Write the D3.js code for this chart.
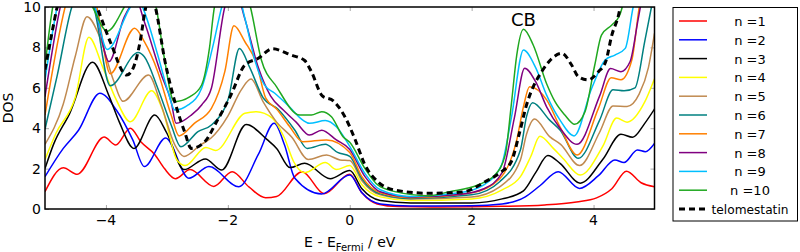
<!DOCTYPE html>
<html>
<head>
  <script src="https://d3js.org/d3.v7.min.js"></script>
  <style>
    body { margin: 0; background: #fff; }
    svg { font-family: "DejaVu Sans", sans-serif; }
    .tick-label { font-size: 14px; fill: #000; }
    .legend text { font-size: 13px; }
  </style>
</head>
<body>
  <script>
    // DOS curves, [E - E_Fermi (eV), DOS]
    var n1 = [[-5,0.86],[-4.7,2.04],[-4.47,1.72],[-4.03,3.56],[-3.84,3.17],[-3.6,4.0],[-3.42,3.3],[-3.2,2.7],[-3.04,2.0],[-2.86,1.5],[-2.62,1.95],[-2.23,1.12],[-1.93,1.84],[-1.65,1.08],[-1.38,0.56],[-1.2,0.62],[-0.78,1.85],[-0.42,0.76],[0,1.72],[0.2,0.8],[0.45,0.25],[0.8,0.12],[1.5,0.1],[2.5,0.13],[3.2,0.2],[3.72,0.35],[4.05,0.55],[4.3,1.0],[4.54,1.87],[4.78,1.3],[5,1.1]];
    var n2 = [[-5,1.6],[-4.7,3.0],[-4.45,3.9],[-4.1,5.73],[-3.83,4.9],[-3.56,3.42],[-3.37,2.1],[-3.02,3.52],[-2.64,1.52],[-2.31,2.1],[-1.82,1.1],[-1.5,2.7],[-1.24,4.24],[-1.07,3.17],[-0.9,1.52],[-0.46,0.74],[0,1.68],[0.2,0.8],[0.5,0.25],[1,0.15],[2,0.16],[2.5,0.25],[2.88,0.6],[3.12,1.15],[3.42,1.85],[3.77,1.02],[4.08,1.65],[4.35,2.43],[4.5,2.3],[4.72,2.92],[4.85,2.84],[5,3.25]];
    var n3 = [[-5,2.0],[-4.86,3.2],[-4.6,4.7],[-4.22,7.27],[-3.95,5.6],[-3.78,4.3],[-3.54,3.0],[-3.2,4.65],[-3.0,3.75],[-2.72,1.95],[-2.37,2.48],[-2.1,1.93],[-1.7,4.18],[-1.35,3.42],[-1.2,3.0],[-0.98,2.05],[-0.74,2.26],[-0.32,1.5],[0,1.9],[0.2,1.0],[0.5,0.42],[1,0.3],[2,0.3],[2.5,0.5],[2.85,0.9],[3.05,1.8],[3.25,2.65],[3.45,2.26],[3.78,1.28],[4.15,2.45],[4.45,3.7],[4.64,3.55],[4.84,4.24],[5,4.95]];
    var n4 = [[-5,2.45],[-4.82,3.75],[-4.5,5.56],[-4.28,8.5],[-4.05,7.0],[-3.83,5.4],[-3.6,4.32],[-3.25,5.85],[-3.07,4.9],[-2.83,2.4],[-2.7,2.15],[-2.36,3.05],[-2.2,2.9],[-1.72,4.74],[-1.53,4.82],[-1.27,4.5],[-1.07,3.5],[-0.92,2.34],[-0.74,1.8],[-0.4,2.3],[-0.22,1.95],[0,2.15],[0.2,1.2],[0.5,0.6],[1,0.42],[2,0.5],[2.5,0.95],[2.8,1.6],[2.97,2.6],[3.12,3.6],[3.34,3.0],[3.5,2.5],[3.78,1.68],[4.15,3.1],[4.38,4.5],[4.55,4.3],[4.84,5.3],[5,6.45]];
    var n5 = [[-5,3.2],[-4.7,5.2],[-4.5,7.6],[-4.31,9.52],[-4.1,8.5],[-3.88,6.4],[-3.72,5.33],[-3.3,6.63],[-3.1,5.2],[-2.87,3.17],[-2.72,2.6],[-2.45,3.17],[-2.28,3.5],[-2.0,4.6],[-1.78,5.9],[-1.62,6.43],[-1.42,5.3],[-1.2,4.3],[-0.95,3.55],[-0.68,2.45],[-0.38,2.67],[-0.16,2.43],[0,2.4],[0.2,1.4],[0.5,0.7],[1,0.5],[2,0.6],[2.46,1.1],[2.8,2.43],[2.9,3.7],[3.03,4.45],[3.28,3.58],[3.46,3.2],[3.77,2.15],[4.1,3.8],[4.32,5.1],[4.55,5.08],[4.75,5.7],[4.9,7.0],[5,8.7]];
    var n6 = [[-5,3.95],[-4.8,6.6],[-4.56,10],[-4.4,11],[-4.2,10],[-3.93,6.1],[-3.47,7.75],[-3.37,7.54],[-3.15,5.98],[-2.93,4.16],[-2.77,3.08],[-2.49,3.83],[-2.27,4.16],[-1.99,5.48],[-1.81,7.95],[-1.64,7.0],[-1.42,5.5],[-1.18,4.95],[-0.9,3.9],[-0.7,3.0],[-0.4,3.2],[-0.2,2.8],[0,2.6],[0.2,1.5],[0.5,0.75],[1,0.52],[2,0.7],[2.46,1.35],[2.8,2.92],[2.9,4.57],[3.0,5.26],[3.28,4.4],[3.45,3.91],[3.75,2.51],[4.1,4.4],[4.32,5.9],[4.5,5.85],[4.68,6.0],[4.84,8.3],[4.95,10],[5,10.8]];
    var n7 = [[-5,4.65],[-4.67,10],[-4.45,12],[-4.15,10],[-3.93,6.7],[-3.53,8.95],[-3.37,8.28],[-3.15,6.8],[-2.93,4.65],[-2.8,3.62],[-2.55,4.24],[-2.27,4.98],[-2.05,6.8],[-1.9,9.07],[-1.72,8.28],[-1.53,7.2],[-1.38,5.5],[-1.2,4.95],[-0.99,4.1],[-0.77,3.33],[-0.38,3.42],[0,2.8],[0.2,1.6],[0.5,0.8],[1,0.56],[2,0.8],[2.46,1.5],[2.74,3.42],[2.85,5.06],[2.95,6.05],[3.23,5.4],[3.45,4.07],[3.73,2.67],[4.08,4.98],[4.29,6.5],[4.45,6.4],[4.63,7.4],[4.75,10],[5,12.5]];
    var n8 = [[-5,5.56],[-4.75,10],[-4.5,12.5],[-4.18,10],[-3.95,7.3],[-3.7,9.5],[-3.5,10.3],[-3.37,9.27],[-3.09,6.63],[-2.93,5.31],[-2.85,4.24],[-2.6,4.65],[-2.43,5.15],[-2.27,5.98],[-2.05,10],[-1.9,11],[-1.72,9.4],[-1.5,7.0],[-1.3,5.6],[-1.09,4.9],[-0.88,4.3],[-0.66,3.66],[-0.46,3.9],[-0.22,3.42],[0,2.95],[0.25,1.6],[0.5,0.85],[1,0.6],[1.8,0.72],[2.2,1.0],[2.5,1.8],[2.7,4.5],[2.87,6.97],[3.05,6.3],[3.23,5.06],[3.45,4.0],[3.73,3.2],[4.1,5.6],[4.28,6.95],[4.45,6.8],[4.6,7.3],[4.73,9.36],[4.8,10.5],[5,12.5]];
    var n9 = [[-5,6.39],[-4.8,10],[-4.5,12.5],[-4.18,10],[-3.98,7.9],[-3.6,10],[-3.48,10.5],[-3.37,9.77],[-3.15,7.62],[-2.98,5.8],[-2.87,4.9],[-2.65,5.15],[-2.43,5.98],[-2.25,8],[-2.1,10],[-1.92,11.5],[-1.72,9.44],[-1.55,7.3],[-1.4,6.14],[-1.23,5.73],[-0.99,5.06],[-0.77,4.4],[-0.66,4.24],[-0.4,4.38],[-0.22,4.07],[0,3.1],[0.25,1.75],[0.5,0.95],[1,0.62],[1.8,0.8],[2.2,1.2],[2.49,2.18],[2.65,4.49],[2.85,7.87],[3.05,7.0],[3.23,5.64],[3.45,4.4],[3.68,3.62],[3.97,5.98],[4.19,7.38],[4.35,7.62],[4.52,7.95],[4.65,10],[5,13]];
    var n10 = [[-5,7.04],[-4.86,10.2],[-4.6,12],[-4.22,10],[-3.98,8.8],[-3.7,10],[-3.45,11.5],[-3.18,10],[-3.05,7.6],[-2.88,5.31],[-2.62,5.56],[-2.43,6.14],[-2.3,8],[-2.22,10],[-1.95,12],[-1.63,10],[-1.45,7.38],[-1.2,6.05],[-0.82,4.65],[-0.63,4.65],[-0.46,4.82],[-0.3,4.57],[-0.11,3.58],[0,3.3],[0.25,2.0],[0.46,1.19],[0.74,0.86],[1.29,0.66],[1.64,0.86],[2.1,1.19],[2.38,1.68],[2.55,2.67],[2.65,5.15],[2.74,7.62],[2.85,8.9],[3.01,8.12],[3.23,6.2],[3.37,5.3],[3.53,4.65],[3.69,4.19],[3.86,4.82],[4.02,7.13],[4.13,8.61],[4.3,9.11],[4.43,9.6],[4.5,10.3],[4.8,13],[5,14]];
    var telo = [[-5,6.9],[-4.9,8.5],[-4.8,10],[-4.5,12],[-4.15,10],[-3.93,8.28],[-3.66,6.63],[-3.55,7.0],[-3.44,8.28],[-3.36,9.77],[-3.28,10.8],[-3.19,10],[-3.03,7.29],[-2.87,5.31],[-2.71,3.83],[-2.6,3.0],[-2.38,3.33],[-2.17,4.4],[-1.95,5.64],[-1.72,7.13],[-1.5,7.46],[-1.27,7.93],[-0.96,7.62],[-0.74,7.35],[-0.63,6.8],[-0.45,5.6],[-0.27,5.35],[-0.08,4.57],[0.08,3.5],[0.25,2.18],[0.46,1.35],[0.74,0.94],[1.29,0.78],[1.64,0.8],[1.89,0.86],[2.22,1.35],[2.49,1.85],[2.65,2.34],[2.79,3.83],[2.9,5.15],[3.01,6.05],[3.15,6.8],[3.3,7.4],[3.48,7.71],[3.64,7.13],[3.75,6.55],[3.91,6.39],[4.08,6.8],[4.2,7.3],[4.3,8.61],[4.41,9.6],[4.5,11],[5,14]];

    var seriesNames = ["n =1","n =2","n =3","n =4","n =5","n =6","n =7","n =8","n =9","n =10","telomestatin"];
    var seriesData = [n1, n2, n3, n4, n5, n6, n7, n8, n9, n10, telo];
    var colors = ["#ff0000","#0000ff","#000000","#ffff00","#c08a50","#008080","#ff8000","#800080","#00bfff","#1fa81f","#000000"];
    var xTicks = [-4, -2, 0, 2, 4];
    var yTicks = [0, 2, 4, 6, 8, 10];

    var width = 800, height = 252;
    var mLeft = 45, mRight = 654.5, mTop = 7, mBottom = 209;

    var svg = d3.select("body").append("svg")
        .attr("width", width)
        .attr("height", height);

    var x = d3.scaleLinear().domain([-5, 5]).range([mLeft, mRight]);
    var y = d3.scaleLinear().domain([0, 10]).range([mBottom, mTop]);

    svg.append("clipPath").attr("id", "plot-clip")
      .append("rect")
        .attr("x", mLeft).attr("y", mTop)
        .attr("width", mRight - mLeft).attr("height", mBottom - mTop);

    // ticks point inward, on all four sides
    var tickCol = "#aaa";
    function styleTicks(g) {
      g.select(".domain").remove();
      g.selectAll("line").attr("stroke", tickCol);
    }
    svg.append("g")
        .attr("transform", "translate(0," + mBottom + ")")
        .call(d3.axisTop(x).tickValues(xTicks).tickSize(4).tickFormat(""))
        .call(styleTicks);
    svg.append("g")
        .attr("transform", "translate(0," + mTop + ")")
        .call(d3.axisBottom(x).tickValues(xTicks).tickSize(4).tickFormat(""))
        .call(styleTicks);
    svg.append("g")
        .attr("transform", "translate(" + mLeft + ",0)")
        .call(d3.axisRight(y).tickValues(yTicks).tickSize(4).tickFormat(""))
        .call(styleTicks);
    svg.append("g")
        .attr("transform", "translate(" + mRight + ",0)")
        .call(d3.axisLeft(y).tickValues(yTicks).tickSize(4).tickFormat(""))
        .call(styleTicks);

    // tick labels
    svg.selectAll(".xlab").data(xTicks).enter().append("text")
        .attr("class", "tick-label")
        .attr("x", function(d) { return x(d); })
        .attr("y", 225)
        .attr("text-anchor", "middle")
        .text(function(d) { return d < 0 ? "\u2212" + Math.abs(d) : d; });
    svg.selectAll(".ylab").data(yTicks).enter().append("text")
        .attr("class", "tick-label")
        .attr("x", 41)
        .attr("y", function(d) { return y(d) + 5; })
        .attr("text-anchor", "end")
        .text(function(d) { return d; });

    var line = d3.line()
        .x(function(d) { return x(d[0]); })
        .y(function(d) { return y(d[1]); })
        .curve(d3.curveMonotoneX);

    var plot = svg.append("g").attr("clip-path", "url(#plot-clip)");
    seriesData.forEach(function(s, i) {
      var p = plot.append("path")
          .datum(s)
          .attr("d", line)
          .attr("fill", "none")
          .attr("stroke", colors[i])
          .attr("stroke-width", i == 10 ? 3 : 1.5);
      if (i == 10) p.attr("stroke-dasharray", "6,4");
    });

    // frame
    svg.append("rect")
        .attr("x", mLeft).attr("y", mTop)
        .attr("width", mRight - mLeft).attr("height", mBottom - mTop)
        .attr("fill", "none").attr("stroke", "#000").attr("stroke-width", 1.5);

    svg.append("text")
        .attr("x", x(2.85)).attr("y", 26)
        .attr("text-anchor", "middle")
        .style("font-size", "18px")
        .text("CB");

    // axis titles
    var xl = svg.append("text")
        .attr("x", x(0)).attr("y", 247)
        .attr("text-anchor", "middle")
        .style("font-size", "14px");
    xl.append("tspan").text("E - E");
    xl.append("tspan").attr("dy", 4).style("font-size", "10px").text("Fermi");
    xl.append("tspan").attr("dy", -4).text(" / eV");

    svg.append("text")
        .attr("transform", "translate(13," + ((mTop + mBottom) / 2) + ") rotate(-90)")
        .attr("text-anchor", "middle")
        .style("font-size", "14px")
        .text("DOS");

    // legend
    var lg = svg.append("g").attr("class", "legend");
    lg.append("rect")
        .attr("x", 673).attr("y", 7.5)
        .attr("width", 124.5).attr("height", 213.5)
        .attr("fill", "#fff").attr("stroke", "#000").attr("stroke-width", 1);
    seriesNames.forEach(function(name, i) {
      var ly = 21 + i * 18.8;
      var l = lg.append("line")
          .attr("x1", 679).attr("x2", 707)
          .attr("y1", ly).attr("y2", ly)
          .attr("stroke", colors[i])
          .attr("stroke-width", i == 10 ? 3 : 1.5);
      if (i == 10) l.attr("stroke-dasharray", "6,4");
      var t = lg.append("text")
          .attr("x", 750).attr("y", ly + 5)
          .attr("text-anchor", "middle")
          .text(name);
      if (i == 10) t.attr("textLength", 77).attr("lengthAdjust", "spacingAndGlyphs");
    });
  </script>
</body>
</html>
